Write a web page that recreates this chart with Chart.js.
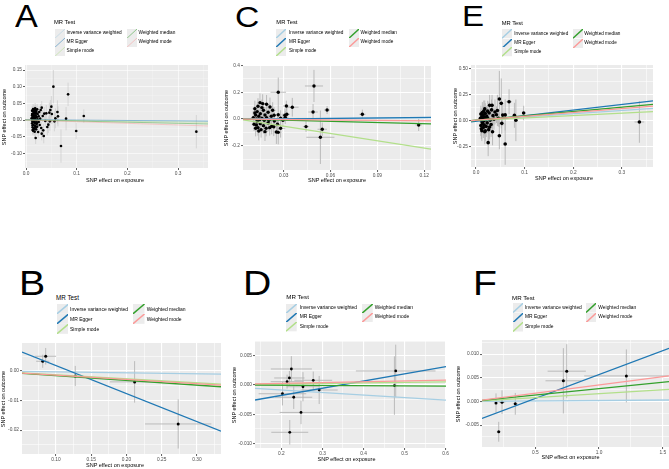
<!DOCTYPE html>
<html><head><meta charset="utf-8">
<script src="https://cdn.jsdelivr.net/npm/chart.js@4.4.1/dist/chart.umd.min.js"></script>
<style>
html,body{margin:0;padding:0;background:#fff;overflow:hidden;}
#root{position:relative;width:669px;height:469px;overflow:hidden;font-family:"Liberation Sans",Arial,Helvetica,sans-serif;}
.t{position:absolute;white-space:nowrap;line-height:1;color:#000;}
canvas{position:absolute;}
svg{position:absolute;}
</style></head><body><div id="root"></div>
<script>
// ---------- shared ----------
const methods = ['Inverse variance weighted','MR Egger','Simple mode','Weighted median','Weighted mode'];
const methodColors = ['#a6cee3','#1f78b4','#b2df8a','#33a02c','#fb9a99'];

// ---------- panel A ----------
const pointsA = [ // [exposure, outcome, se exposure, se outcome]
[0.011,0.005,0.0015,0.012],[0.012,0.018,0.0015,0.013],[0.012,-0.010,0.0015,0.012],[0.012,0.028,0.0015,0.014],
[0.013,-0.022,0.0015,0.013],[0.013,0.010,0.0015,0.011],[0.013,0.000,0.0015,0.012],[0.014,0.033,0.0015,0.015],
[0.014,-0.005,0.0015,0.012],[0.014,0.015,0.0015,0.012],[0.014,-0.032,0.0015,0.014],[0.015,0.024,0.0015,0.013],
[0.015,0.003,0.0015,0.012],[0.015,-0.015,0.0015,0.013],[0.016,0.012,0.0015,0.013],[0.016,-0.025,0.0015,0.014],
[0.016,0.030,0.0015,0.014],[0.017,-0.008,0.0015,0.013],[0.017,0.020,0.0015,0.013],[0.017,-0.035,0.0015,0.015],
[0.018,0.006,0.0015,0.013],[0.018,-0.018,0.0015,0.014],[0.018,0.035,0.0015,0.016],[0.019,-0.054,0.002,0.018],
[0.019,0.014,0.0015,0.014],[0.020,-0.002,0.0015,0.014],[0.020,0.026,0.0015,0.015],[0.020,-0.028,0.0015,0.015],
[0.021,0.009,0.0015,0.014],[0.021,-0.012,0.0015,0.014],[0.022,0.032,0.002,0.016],[0.022,-0.020,0.002,0.015],
[0.023,0.002,0.002,0.015],[0.023,0.018,0.002,0.015],[0.024,-0.036,0.002,0.017],[0.025,0.011,0.002,0.016],
[0.025,-0.006,0.002,0.015],[0.026,0.024,0.002,0.017],[0.027,-0.015,0.002,0.017],[0.028,0.004,0.002,0.017],
[0.029,0.030,0.002,0.018],[0.030,-0.024,0.002,0.018],[0.031,0.037,0.002,0.020],[0.031,-0.041,0.002,0.020],
[0.033,0.012,0.002,0.018],[0.034,-0.031,0.002,0.020],[0.035,-0.048,0.002,0.022],[0.036,0.019,0.002,0.020],
[0.038,-0.003,0.002,0.020],[0.040,0.020,0.002,0.025],[0.042,-0.021,0.002,0.025],[0.044,-0.014,0.002,0.025],
[0.046,0.022,0.002,0.030],[0.047,-0.004,0.002,0.028],[0.048,0.030,0.002,0.030],[0.050,0.040,0.002,0.032],
[0.051,0.018,0.002,0.030],[0.054,0.100,0.003,0.050],[0.056,-0.004,0.002,0.030],[0.058,0.005,0.002,0.030],
[0.062,0.024,0.003,0.035],[0.063,0.011,0.003,0.030],[0.069,-0.078,0.003,0.050],[0.079,0.004,0.003,0.035],
[0.083,0.077,0.003,0.035],[0.099,-0.033,0.003,0.025],[0.114,0.012,0.003,0.020],[0.336,-0.035,0.004,0.050],
[0.012,0.014,0.0015,0.012],[0.013,-0.016,0.0015,0.012],[0.014,0.004,0.0015,0.012],[0.015,0.018,0.0015,0.013],
[0.015,-0.028,0.0015,0.013],[0.016,-0.004,0.0015,0.013],[0.016,0.021,0.0015,0.013],[0.017,0.027,0.0015,0.014],
[0.017,0.001,0.0015,0.013],[0.018,-0.010,0.0015,0.013],[0.018,0.022,0.0015,0.014],[0.019,-0.022,0.0015,0.014],
[0.019,0.030,0.0015,0.015],[0.020,0.008,0.0015,0.014],[0.021,0.020,0.0015,0.014],[0.022,-0.008,0.002,0.015],
[0.013,-0.030,0.0015,0.013],[0.012,-0.002,0.0015,0.012],[0.014,0.026,0.0015,0.013],[0.016,0.007,0.0015,0.013]
];
const slopesA = [-0.010,-0.012,-0.020,-0.033,-0.050];
const interceptsA = [0,0.001,0,0,0];
const xRangeA = [-0.002,0.359], yRangeA = [-0.144,0.165];
const xTicksA = [0,0.1,0.2,0.3], xLabelsA = ['0.0','0.1','0.2','0.3'], xMinorA = [0.05,0.15,0.25,0.35];
const yTicksA = [-0.10,-0.05,0,0.05,0.10,0.15], yLabelsA = ['-0.10','-0.05','0.00','0.05','0.10','0.15'];
const yMinorA = [-0.125,-0.075,-0.025,0.025,0.075,0.125];

// ---------- panel C ----------
const pointsC = [
[0.0265,0.200,0.005,0.11],[0.0494,0.247,0.0058,0.12],[0.0317,0.097,0.002,0.04],[0.0355,0.088,0.004,0.07],
[0.0320,0.035,0.002,0.05],[0.0488,0.052,0.003,0.06],[0.0578,0.067,0.002,0.03],[0.0804,0.035,0.002,0.035],
[0.1165,-0.045,0.002,0.045],[0.0443,-0.057,0.002,0.04],[0.0547,-0.077,0.003,0.05],[0.0535,-0.137,0.009,0.20],
[0.0310,0.012,0.002,0.05],[0.0308,0.028,0.002,0.05],[0.0295,-0.010,0.002,0.05],
[0.0105,0.010,0.0015,0.05],[0.0110,-0.040,0.0015,0.05],[0.0115,0.077,0.0015,0.06],[0.0120,0.030,0.0015,0.05],
[0.0120,-0.070,0.0015,0.06],[0.0125,0.000,0.0015,0.05],[0.0130,0.055,0.0015,0.06],[0.0130,-0.020,0.0015,0.05],
[0.0135,-0.065,0.0015,0.06],[0.0140,0.020,0.0015,0.05],[0.0140,-0.090,0.0015,0.07],[0.0148,0.122,0.002,0.07],
[0.0150,0.040,0.002,0.06],[0.0150,-0.035,0.002,0.06],[0.0155,-0.080,0.002,0.06],[0.0160,0.005,0.002,0.05],
[0.0165,0.115,0.002,0.07],[0.0170,0.065,0.002,0.06],[0.0170,-0.050,0.002,0.06],[0.0175,-0.010,0.002,0.05],
[0.0180,0.030,0.002,0.06],[0.0187,-0.070,0.002,0.06],[0.0190,0.110,0.002,0.07],[0.0190,0.010,0.002,0.05],
[0.0200,-0.030,0.002,0.06],[0.0200,0.050,0.002,0.06],[0.0210,-0.065,0.002,0.06],[0.0212,0.090,0.002,0.07],
[0.0220,0.020,0.002,0.06],[0.0223,-0.055,0.002,0.06],[0.0229,0.065,0.002,0.06],[0.0236,-0.058,0.002,0.07],
[0.0238,0.028,0.002,0.06],[0.0240,-0.015,0.002,0.06],[0.0253,-0.097,0.002,0.09],[0.0265,0.032,0.002,0.06],
[0.0260,-0.040,0.002,0.06],[0.0280,0.005,0.002,0.06],[0.0280,-0.070,0.003,0.07],[0.0115,0.045,0.0015,0.05],
[0.0125,-0.045,0.0015,0.05],[0.0160,0.085,0.002,0.06],[0.0135,0.095,0.0015,0.06],[0.0180,-0.095,0.002,0.07],
[0.0145,-0.005,0.0015,0.05],[0.0205,-0.010,0.002,0.05],[0.0265,-0.100,0.002,0.09]
];
const slopesC = [0.060,0.120,-1.810,-0.300,-0.120];
const interceptsC = [0,-0.003,0,0,0];
const xRangeC = [0.0039,0.1244], yRangeC = [-0.382,0.404];
const xTicksC = [0.03,0.06,0.09,0.12], xLabelsC = ['0.03','0.06','0.09','0.12'], xMinorC = [0.015,0.045,0.075,0.105];
const yTicksC = [-0.2,0,0.2,0.4], yLabelsC = ['-0.2','0.0','0.2','0.4'], yMinorC = [-0.3,-0.1,0.1,0.3];

// ---------- panel E ----------
const pointsE = [
[0.048,0.205,0.003,0.27],[0.052,0.163,0.003,0.24],[0.068,0.179,0.006,0.12],[0.098,0.070,0.003,0.07],
[0.079,0.048,0.003,0.12],[0.082,0.000,0.003,0.20],[0.055,0.050,0.003,0.10],[0.060,0.052,0.003,0.15],
[0.053,-0.029,0.003,0.10],[0.048,-0.148,0.003,0.13],[0.060,-0.228,0.003,0.20],[0.025,-0.215,0.003,0.13],
[0.336,-0.016,0.010,0.20],[0.046,0.020,0.003,0.08],[0.042,0.054,0.003,0.08],[0.035,0.045,0.003,0.10],
[0.033,0.144,0.003,0.10],[0.028,0.144,0.003,0.10],[0.024,0.088,0.003,0.10],[0.018,0.110,0.003,0.08],
[0.009,0.020,0.002,0.08],[0.010,-0.050,0.002,0.10],[0.010,0.060,0.002,0.08],[0.011,-0.081,0.002,0.10],
[0.011,0.000,0.002,0.07],[0.012,0.035,0.002,0.08],[0.012,-0.100,0.002,0.10],[0.013,0.075,0.002,0.10],
[0.013,-0.020,0.002,0.08],[0.014,-0.035,0.002,0.09],[0.014,0.010,0.002,0.08],[0.015,0.050,0.002,0.09],
[0.015,-0.070,0.002,0.10],[0.016,0.090,0.002,0.10],[0.016,-0.005,0.002,0.08],[0.017,0.030,0.002,0.09],
[0.017,-0.045,0.002,0.10],[0.018,-0.110,0.002,0.12],[0.019,0.065,0.002,0.10],[0.019,-0.100,0.002,0.10],
[0.020,0.005,0.002,0.09],[0.021,-0.060,0.002,0.10],[0.022,0.040,0.002,0.10],[0.023,-0.025,0.002,0.10],
[0.024,0.020,0.002,0.10],[0.026,-0.090,0.002,0.12],[0.027,0.070,0.002,0.11],[0.028,-0.065,0.002,0.12],
[0.029,0.000,0.002,0.10],[0.031,-0.040,0.002,0.12],[0.032,0.100,0.002,0.10],[0.034,-0.110,0.002,0.13],
[0.037,0.010,0.002,0.10],[0.039,0.080,0.002,0.12],[0.044,0.095,0.003,0.15]
];
const slopesE = [0.316,0.540,0.228,0.420,0.376];
const interceptsE = [0,-0.0104,0,0,0];
const xRangeE = [-0.0103,0.364], yRangeE = [-0.449,0.532];
const xTicksE = [0,0.1,0.2,0.3], xLabelsE = ['0.0','0.1','0.2','0.3'], xMinorE = [0.05,0.15,0.25,0.35];
const yTicksE = [-0.25,0,0.25,0.5], yLabelsE = ['-0.25','0.00','0.25','0.50'], yMinorE = [-0.375,-0.125,0.125,0.375];

// ---------- panel B ----------
const pointsB = [
[0.0854,0.00495,0.0148,0.0028],[0.0812,0.00327,0.0093,0.0022],[0.1273,-0.0017,0.003,0.0034],
[0.2115,-0.0037,0.035,0.0070],[0.2733,-0.0179,0.047,0.0083]
];
const slopesB = [-0.0033,-0.0947,-0.0134,-0.0160,-0.0144];
const interceptsB = [0,0.0113,0,0,0];
const xRangeB = [0.0518,0.334], yRangeB = [-0.02805,0.00943];
const xTicksB = [0.10,0.15,0.20,0.25,0.30], xLabelsB = ['0.10','0.15','0.20','0.25','0.30'];
const xMinorB = [0.075,0.125,0.175,0.225,0.275,0.325];
const yTicksB = [-0.02,-0.01,0], yLabelsB = ['-0.02','-0.01','0.00'], yMinorB = [-0.025,-0.015,-0.005,0.005];

// ---------- panel D ----------
const pointsD = [
[0.2242,0.00274,0.050,0.0022],[0.2194,0.0012,0.037,0.0012],[0.2138,0.00057,0.040,0.0012],
[0.2775,0.0008,0.046,0.0015],[0.2525,-0.0003,0.040,0.0025],[0.2920,-0.00086,0.045,0.0024],
[0.2025,-0.0015,0.058,0.0020],[0.2300,-0.0021,0.045,0.0020],[0.2477,-0.0047,0.052,0.0020],
[0.2203,-0.0081,0.045,0.0021],[0.4785,0.0024,0.097,0.0045],[0.4753,-0.0001,0.010,0.0050]
];
const slopesD = [-0.0043,0.01229,0.0009,-0.0003,0.0014];
const interceptsD = [0,-0.00424,0,0,0];
const xRangeD = [0.1356,0.601], yRangeD = [-0.01079,0.00753];
const xTicksD = [0.2,0.3,0.4,0.5,0.6], xLabelsD = ['0.2','0.3','0.4','0.5','0.6'], xMinorD = [0.15,0.25,0.35,0.45,0.55];
const yTicksD = [-0.01,-0.005,0,0.005], yLabelsD = ['-0.010','-0.005','0.000','0.005'];
const yMinorD = [-0.0075,-0.0025,0.0025,0.0075];

// ---------- panel F ----------
const pointsF = [
[0.1915,-0.0003,0.010,0.0020],[0.2386,-0.00015,0.025,0.0025],[0.3430,-0.0005,0.020,0.0023],
[0.2127,-0.0064,0.015,0.0021],[0.7200,0.00437,0.140,0.0069],[0.7465,0.0064,0.150,0.0057],
[1.2143,0.0054,0.330,0.0056]
];
const slopesF = [0.0002,0.0101,0.00164,0.0027,0.0035];
const interceptsF = [0,-0.00442,0,0,0];
const xRangeF = [0.0816,1.549], yRangeF = [-0.00962,0.01299];
const xTicksF = [0.5,1.0,1.5], xLabelsF = ['0.5','1.0','1.5'], xMinorF = [0.25,0.75,1.25];
const yTicksF = [-0.005,0,0.005,0.01], yLabelsF = ['-0.005','0.000','0.005','0.010'];
const yMinorF = [-0.0075,-0.0025,0.0025,0.0075,0.0125];

// ---------- rendering ----------
Chart.defaults.font.family = '"Liberation Sans", Arial, Helvetica, sans-serif';
const root = document.getElementById('root');

function hexA(hex, a){
  const n = parseInt(hex.slice(1),16);
  return 'rgba('+((n>>16)&255)+','+((n>>8)&255)+','+(n&255)+','+a+')';
}
function addText(str, x, cy, fs, o){
  o = o || {};
  const d = document.createElement('div'); d.className='t'; d.textContent = str;
  d.style.fontSize = fs+'px';
  d.style.left = x+'px';
  if (o.color) d.style.color = o.color;
  if (o.rotate){
    d.style.top = cy+'px';
    d.style.transform = 'translate(-50%,-50%) rotate(-90deg)';
  } else {
    d.style.top = (o.baseline ? cy - 0.8465*fs : cy - 0.5*fs)+'px';
    const tf = [];
    if (o.anchor==='middle') tf.push('translateX(-50%)');
    if (o.sx){ tf.push('scaleX('+o.sx+')'); d.style.transformOrigin='left top'; }
    if (tf.length) d.style.transform = tf.join(' ');
  }
  root.appendChild(d);
}
function addKey(x, y, w, h, color, lw, alpha){
  const ns='http://www.w3.org/2000/svg';
  const s=document.createElementNS(ns,'svg');
  s.setAttribute('width',w); s.setAttribute('height',h);
  s.style.left=x+'px'; s.style.top=y+'px';
  const r=document.createElementNS(ns,'rect');
  r.setAttribute('width',w); r.setAttribute('height',h); r.setAttribute('fill','#ececec');
  const l=document.createElementNS(ns,'line');
  l.setAttribute('x1',0); l.setAttribute('y1',h); l.setAttribute('x2',w); l.setAttribute('y2',0);
  l.setAttribute('stroke',color); l.setAttribute('stroke-width',lw); l.setAttribute('stroke-opacity',alpha);
  s.appendChild(r); s.appendChild(l); root.appendChild(s);
}
function drawLegend(g, alpha){
  addText('MR Test', g.tx, g.tcy, g.tfs);
  const slots = [[g.k1x,g.t1x,0],[g.k1x,g.t1x,1],[g.k1x,g.t1x,2],[g.k2x,g.t2x,0],[g.k2x,g.t2x,1]];
  methods.forEach((m,i)=>{
    const [kx,tx,row] = slots[i];
    const cy = g.rows[row];
    addKey(kx, cy-g.kh/2, g.kw, g.kh, methodColors[i], g.klw, alpha);
    addText(m, tx, cy, g.fs);
  });
}
function tickBuilder(major, labels, minor){
  return function(scale){
    const arr = major.map((v,i)=>({value:v, lbl:labels[i], isMajor:true}))
      .concat(minor.filter(v=>v>=scale.min && v<=scale.max).map(v=>({value:v, lbl:'', isMajor:false})));
    arr.sort((a,b)=>a.value-b.value);
    scale.ticks = arr;
  };
}
const bgPlugin = {
  id:'panelbg',
  beforeDraw(chart){
    const ca = chart.chartArea, c = chart.ctx;
    c.save(); c.fillStyle = '#ebebeb';
    c.fillRect(ca.left, ca.top, ca.right-ca.left, ca.bottom-ca.top);
    c.restore();
  }
};
const errPlugin = {
  id:'errbars',
  beforeDatasetsDraw(chart, args, opts){
    const ds = chart.data.datasets.find(d=>d.isPoints);
    if (!ds) return;
    const xs = chart.scales.x, ys = chart.scales.y, c = chart.ctx, ca = chart.chartArea;
    c.save(); c.beginPath(); c.rect(ca.left, ca.top, ca.right-ca.left, ca.bottom-ca.top); c.clip();
    c.strokeStyle = opts.color; c.lineWidth = opts.width;
    ds.data.forEach(p=>{
      const px = xs.getPixelForValue(p.x), py = ys.getPixelForValue(p.y);
      c.beginPath();
      c.moveTo(px, ys.getPixelForValue(p.y-p.sy)); c.lineTo(px, ys.getPixelForValue(p.y+p.sy));
      c.moveTo(xs.getPixelForValue(p.x-p.sx), py); c.lineTo(xs.getPixelForValue(p.x+p.sx), py);
      c.stroke();
    });
    c.restore();
  }
};
function makePanel(p){
  const [L,T,R,B] = p.rect;
  const yW = 22, xH = 14, padT = 5, padR = 8;
  const w = R-L+yW+padR, h = B-T+padT+xH;
  const cv = document.createElement('canvas');
  cv.width = w; cv.height = h;
  cv.style.left = (L-yW)+'px'; cv.style.top = (T-padT)+'px';
  cv.style.width = w+'px'; cv.style.height = h+'px';
  root.appendChild(cv);
  const grid = {
    color: ctx => (ctx.tick && ctx.tick.isMajor) ? p.gridMajor : p.gridMinor,
    lineWidth: ctx => (ctx.tick && ctx.tick.isMajor) ? p.gridW : p.gridW*0.5,
    tickColor: ctx => (ctx.tick && ctx.tick.isMajor) ? '#333333' : 'rgba(0,0,0,0)',
    tickWidth: 0.8, tickLength: 2, drawTicks: true, drawOnChartArea: true
  };
  const tickOpts = {autoSkip:false, maxRotation:0, minRotation:0, padding:1, color:'#4d4d4d',
    font:{size:4.8}, callback:(v,i,t)=>t[i].lbl};
  const datasets = [{
    isPoints:true, data: p.pts.map(q=>({x:q[0], y:q[1], sx:q[2], sy:q[3]})),
    pointRadius:p.pr, pointBackgroundColor:'#000', pointBorderWidth:0, borderWidth:0, order:10
  }];
  methods.forEach((m,i)=>{
    const x0 = p.xr[0], x1 = p.xr[1];
    datasets.push({
      label:m, showLine:true, pointRadius:0, borderWidth:p.lw,
      borderColor: hexA(methodColors[i], p.alpha),
      data:[{x:x0, y:p.ints[i]+p.slopes[i]*x0},{x:x1, y:p.ints[i]+p.slopes[i]*x1}],
      order: 5-i
    });
  });
  new Chart(cv, {
    type:'scatter',
    data:{datasets},
    plugins:[bgPlugin, errPlugin],
    options:{
      responsive:false, maintainAspectRatio:false, animation:false, events:[],
      layout:{padding:{left:0, top:padT, right:padR, bottom:0}},
      plugins:{legend:{display:false}, tooltip:{enabled:false}, errbars:{color:p.errColor, width:p.errW}},
      scales:{
        x:{type:'linear', min:p.xr[0], max:p.xr[1], afterBuildTicks:tickBuilder(p.xt,p.xl,p.xm),
           afterFit:s=>{s.height=xH;}, ticks:tickOpts, grid:grid, border:{display:false}},
        y:{type:'linear', min:p.yr[0], max:p.yr[1], afterBuildTicks:tickBuilder(p.yt,p.yl,p.ym),
           afterFit:s=>{s.width=yW;}, ticks:tickOpts, grid:grid, border:{display:false}}
      }
    }
  });
  // letters, axis titles, legend
  addText(p.letter[0], p.letter[1], p.letter[2], p.letter[3], {baseline:true, sx:1.12});
  addText('SNP effect on exposure', p.xtitle[0], p.xtitle[1], 5.5, {anchor:'middle'});
  addText('SNP effect on outcome', p.ytitle[0], (T+B)/2, 5.5, {rotate:true});
  drawLegend(p.legend, p.alpha);
}

const common = {gridMajor:'#ffffff', gridMinor:'#ffffff', errColor:'#b4b4b4'};
const panelDefs = [
  Object.assign({}, common, {rect:[25,65,208,168], pts:pointsA, slopes:slopesA, ints:interceptsA, xr:xRangeA, yr:yRangeA,
    xt:xTicksA, xl:xLabelsA, xm:xMinorA, yt:yTicksA, yl:yLabelsA, ym:yMinorA,
    pr:1.3, lw:0.9, alpha:0.5, gridW:0.8, gridMajor:'rgba(255,255,255,0.75)', gridMinor:'rgba(255,255,255,0.6)', errW:0.6, errColor:'#c4c4c4',
    letter:['A',14.5,27,30.5], xtitle:[115,181], ytitle:[4.7],
    legend:{tx:54, tcy:22.7, tfs:5.8, k1x:54.5, k2x:126.7, kw:10, kh:9.2, rows:[33.3,42.5,51.7], t1x:66.5, t2x:138.5, fs:4.75, klw:1}}),
  Object.assign({}, common, {rect:[243,65,431,170], pts:pointsC, slopes:slopesC, ints:interceptsC, xr:xRangeC, yr:yRangeC,
    xt:xTicksC, xl:xLabelsC, xm:xMinorC, yt:yTicksC, yl:yLabelsC, ym:yMinorC,
    pr:1.7, lw:1.3, alpha:1, gridW:1.1, errW:0.9,
    letter:['C',234.5,27.5,30], xtitle:[337,181], ytitle:[227],
    legend:{tx:276.3, tcy:22.7, tfs:5.8, k1x:276.3, k2x:349, kw:10, kh:9.2, rows:[33.3,42.5,51.7], t1x:289, t2x:360.5, fs:4.7, klw:1.4}}),
  Object.assign({}, common, {rect:[471,65,653,167], pts:pointsE, slopes:slopesE, ints:interceptsE, xr:xRangeE, yr:yRangeE,
    xt:xTicksE, xl:xLabelsE, xm:xMinorE, yt:yTicksE, yl:yLabelsE, ym:yMinorE,
    pr:1.8, lw:1.3, alpha:1, gridW:1.1, errW:0.9,
    letter:['E',461.5,26,29.5], xtitle:[564,178.5], ytitle:[456],
    legend:{tx:501.7, tcy:24, tfs:5.8, k1x:502, k2x:572.7, kw:10, kh:9.2, rows:[34,43.3,52], t1x:514.3, t2x:584.3, fs:4.65, klw:1.4}}),
  Object.assign({}, common, {rect:[22,343,221,454], pts:pointsB, slopes:slopesB, ints:interceptsB, xr:xRangeB, yr:yRangeB,
    xt:xTicksB, xl:xLabelsB, xm:xMinorB, yt:yTicksB, yl:yLabelsB, ym:yMinorB,
    pr:1.5, lw:1.3, alpha:1, gridW:1.1, errW:0.9,
    letter:['B',19,295,35], xtitle:[115,465.7], ytitle:[4.3],
    legend:{tx:56, tcy:298.3, tfs:6.3, k1x:56.7, k2x:133.3, kw:11.5, kh:9.8, rows:[309.3,319,329], t1x:70, t2x:146.7, fs:5, klw:1.5}}),
  Object.assign({}, common, {rect:[255,341,446,448], pts:pointsD, slopes:slopesD, ints:interceptsD, xr:xRangeD, yr:yRangeD,
    xt:xTicksD, xl:xLabelsD, xm:xMinorD, yt:yTicksD, yl:yLabelsD, ym:yMinorD,
    pr:1.4, lw:1.3, alpha:1, gridW:1.1, errW:0.9,
    letter:['D',243,295,35], xtitle:[346.5,460], ytitle:[234.7],
    legend:{tx:286.3, tcy:296.7, tfs:6.2, k1x:286.3, k2x:362.3, kw:10.7, kh:9.3, rows:[308.3,317.7,327], t1x:299.7, t2x:374.7, fs:4.95, klw:1.5}}),
  Object.assign({}, common, {rect:[482,340,669,447], pts:pointsF, slopes:slopesF, ints:interceptsF, xr:xRangeF, yr:yRangeF,
    xt:xTicksF, xl:xLabelsF, xm:xMinorF, yt:yTicksF, yl:yLabelsF, ym:yMinorF,
    pr:1.5, lw:1.3, alpha:1, gridW:1.1, errW:0.9,
    letter:['F',473,295,35], xtitle:[570.5,457.7], ytitle:[459.3],
    legend:{tx:512, tcy:297.7, tfs:6.2, k1x:512.7, k2x:586, kw:10.3, kh:9.5, rows:[308,317.3,327], t1x:525, t2x:598.3, fs:4.9, klw:1.5}})
];
panelDefs.forEach(makePanel);
</script></body></html>
